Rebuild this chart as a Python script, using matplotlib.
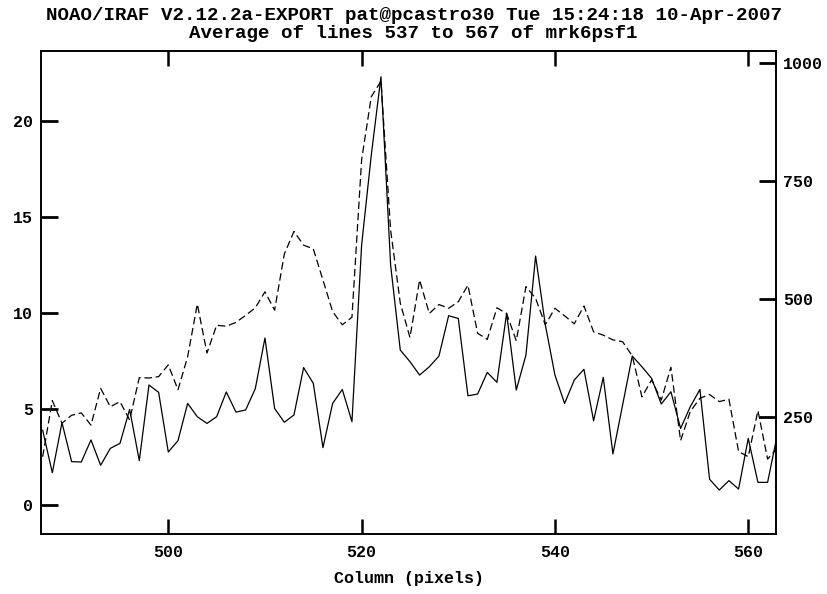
#!/usr/bin/env python3

# IRAF-style line plot: column cut through mrk6psf1 with two overlaid profiles.

import numpy as np
import matplotlib as mpl
mpl.use("Agg")
import matplotlib.pyplot as plt

columns = np.arange(487, 564)

# solid profile (left axis)
solid = [3.9, 1.68, 4.29, 2.26, 2.24, 3.39, 2.07, 2.95, 3.21, 4.98,
         2.31, 6.25, 5.87, 2.76, 3.35, 5.29, 4.6, 4.25, 4.6, 5.89,
         4.84, 4.95, 6.06, 8.7, 5.03, 4.31, 4.69, 7.16, 6.34, 2.99,
         5.29, 6.02, 4.34, 13.54, 18.23, 22.31, 12.5, 8.07, 7.47, 6.77,
         7.2, 7.76, 9.86, 9.72, 5.69, 5.78, 6.91, 6.39, 9.98, 5.99,
         7.81, 12.97, 9.4, 6.77, 5.29, 6.51, 7.07, 4.39, 6.65, 2.66,
         5.21, 7.76, 7.2, 6.6, 5.26, 5.9, 3.99, 5.12, 6.02, 1.34,
         0.78, 1.27, 0.83, 3.47, 1.18, 1.18, 3.65]

# dashed profile (right axis)
dashed = [165, 284, 236, 253, 258, 232, 310, 271, 282, 243,
          333, 332, 335, 360, 307, 377, 489, 385, 444, 442,
          450, 465, 481, 515, 476, 595, 643, 614, 606, 540,
          473, 445, 461, 795, 929, 962, 646, 491, 418, 540,
          469, 488, 480, 494, 529, 427, 414, 481, 469, 411,
          526, 501, 445, 480, 464, 447, 485, 430, 423, 413,
          409, 379, 292, 328, 285, 355, 199, 261, 289, 297,
          282, 287, 176, 165, 263, 160, 183]

left_ticks = [0, 5, 10, 15, 20]
right_ticks = [250, 500, 750, 1000]
x_ticks = [500, 520, 540, 560]

title1 = "NOAO/IRAF V2.12.2a-EXPORT pat@pcastro30 Tue 15:24:18 10-Apr-2007"
title2 = "Average of lines 537 to 567 of mrk6psf1"

plt.rcParams['font.family'] = ['Liberation Mono', 'DejaVu Sans Mono']
plt.rcParams['font.weight'] = 'bold'

W, H = 827, 594
fig = plt.figure(figsize=(W / 100, H / 100), dpi=100)
ax = fig.add_axes([41 / W, (H - 534) / H, (776 - 41) / W, (534 - 51) / H])
ax2 = ax.twinx()

ax.plot(columns, solid, color='black', lw=0.9)
ax2.plot(columns, dashed, color='black', lw=0.9, dashes=(6, 3))

ax.set_xlim(486.83, 562.87)
ax.set_ylim(-1.51, 23.65)
ax2.set_ylim(1, 1026)

ax.set_xticks(x_ticks)
ax.set_yticks(left_ticks)
ax2.set_yticks(right_ticks)

ax.tick_params(axis='x', direction='in', length=11, width=1.8, top=True,
               labelsize=12, pad=8)
ax.tick_params(axis='y', direction='in', length=12, width=2, right=False,
               labelsize=12, pad=6)
ax2.tick_params(axis='y', direction='in', length=12, width=2,
                labelsize=12, pad=5)

for a in (ax, ax2):
    for sp in a.spines.values():
        sp.set_linewidth(1.2)

ax.set_xlabel("Column (pixels)", fontsize=12, fontweight='bold', labelpad=8)
fig.text(0.5, 1 - 15 / H, title1, ha='center', va='center', fontsize=13.8)
fig.text(0.5, 1 - 34 / H, title2, ha='center', va='center', fontsize=13.8)

fig.savefig("out.png", dpi=100)
